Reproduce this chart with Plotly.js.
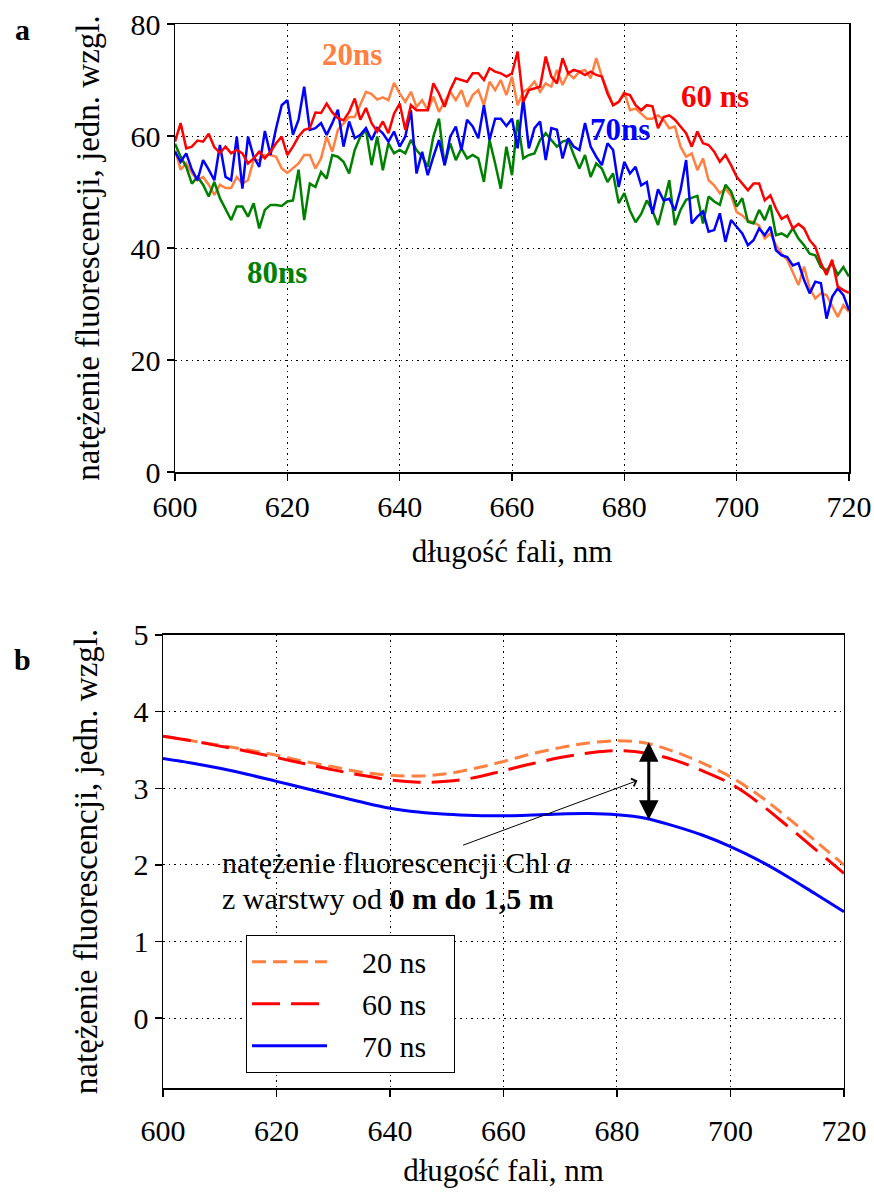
<!DOCTYPE html>
<html>
<head>
<meta charset="utf-8">
<script src="https://cdn.plot.ly/plotly-3.0.1.min.js"></script>
<style>html,body{margin:0;padding:0;background:#fff;}#chart{width:874px;height:1194px;}</style>
</head>
<body>
<div id="chart"></div>
<script>
// ---------- panel a: measured spectra (1 nm step, 600–720 nm) ----------
const wavelengthA = [];
for (let w = 600; w <= 720; w++) wavelengthA.push(w);

const seriesA_20ns = [57.5, 54.0, 55.1, 53.4, 52.1, 52.7, 51.3, 49.5, 51.3, 50.7, 50.7, 52.7, 51.5, 52.1, 55.7, 55.7, 56.6, 56.6, 56.3, 54.2, 53.4, 54.2, 55.1, 56.6, 56.6, 54.2, 56.0, 59.9, 57.2, 61.1, 62.3,
  63.4, 63.4, 65.5, 67.9, 67.5, 66.5, 66.9, 66.4, 69.5, 67.6, 66.1, 67.9, 65.2, 66.4, 64.6, 67.0, 64.3, 66.1, 67.9, 66.4, 68.2, 65.2, 67.3, 68.2, 65.5, 69.7, 68.2, 70.0, 67.3, 70.6,
  65.5, 67.9, 68.5, 69.7, 67.9, 69.4, 68.8, 71.8, 69.1, 71.2, 70.3, 71.5, 71.8, 70.3, 73.9, 70.6, 68.2, 65.5, 66.1, 67.9, 64.6, 64.9, 64.0, 63.1, 63.1, 63.7, 62.9, 61.4, 61.7, 58.1,
  56.3, 56.9, 53.9, 56.0, 52.1, 51.2, 49.8, 50.6, 49.4, 46.4, 45.8, 44.9, 44.6, 44.0, 41.7, 42.6, 40.5, 39.0, 37.9, 35.8, 33.4, 36.7, 32.8, 31.0, 31.9, 31.6, 29.5, 27.7, 29.8, 28.6];

const seriesA_60ns = [59.0, 62.3, 57.8, 58.1, 59.2, 59.0, 60.4, 58.0, 57.0, 58.1, 56.9, 57.5, 56.9, 55.1, 56.0, 57.2, 56.0, 57.2, 58.7, 59.9, 56.6, 58.1, 59.9, 61.1, 61.4, 64.2, 64.1, 65.8, 64.2, 63.2, 62.8,
  64.3, 66.7, 62.9, 65.0, 62.3, 60.8, 62.6, 60.5, 64.0, 65.8, 61.1, 65.5, 64.6, 64.6, 64.6, 69.4, 67.6, 65.2, 68.2, 70.3, 70.0, 69.7, 71.2, 71.2, 70.0, 72.1, 71.5, 71.2, 70.6, 71.2,
  75.1, 66.1, 68.2, 68.5, 68.8, 74.2, 70.6, 69.4, 73.9, 71.2, 71.8, 71.5, 70.9, 71.5, 70.9, 70.6, 67.6, 65.5, 66.1, 67.6, 67.3, 65.5, 64.6, 65.5, 65.3, 61.4, 63.4, 63.7, 62.9, 61.7,
  60.5, 58.1, 60.8, 58.7, 58.4, 57.2, 55.4, 56.6, 54.8, 52.7, 51.5, 50.3, 51.5, 51.5, 48.5, 49.4, 47.0, 45.2, 45.8, 43.5, 44.3, 43.5, 41.4, 40.2, 37.3, 35.2, 37.9, 33.1, 32.5, 32.0];

const seriesA_70ns = [57.2, 55.4, 56.9, 54.0, 52.1, 55.7, 54.0, 52.1, 58.4, 52.7, 52.1, 59.9, 50.6, 59.9, 56.3, 54.5, 60.9, 56.6, 61.4, 65.5, 66.4, 60.2, 62.9, 68.8, 61.1, 61.4, 62.3, 60.2, 62.3, 64.7, 58.1,
  62.6, 59.6, 60.2, 61.4, 59.3, 61.4, 60.5, 59.0, 60.8, 58.1, 59.9, 64.6, 53.3, 57.2, 53.0, 56.3, 59.3, 54.8, 59.9, 61.7, 57.5, 62.9, 61.7, 59.6, 65.5, 59.3, 63.1, 63.1, 61.8, 63.1,
  57.8, 66.7, 57.8, 61.4, 62.6, 55.7, 61.4, 61.1, 56.0, 59.6, 58.1, 57.5, 62.3, 58.1, 56.3, 54.8, 58.7, 57.5, 50.9, 55.4, 53.3, 54.5, 51.2, 51.8, 46.1, 50.5, 48.5, 48.8, 46.7, 50.3,
  55.7, 44.4, 45.6, 46.5, 42.9, 43.2, 46.2, 41.1, 45.0, 43.8, 42.6, 40.5, 41.4, 43.5, 42.3, 43.8, 39.6, 38.7, 38.4, 36.9, 37.3, 34.3, 31.9, 34.0, 33.7, 27.4, 31.3, 32.8, 31.6, 28.9];

const seriesA_80ns = [58.6, 56.3, 54.5, 51.5, 52.7, 51.3, 49.2, 51.8, 48.9, 46.8, 45.0, 47.4, 47.4, 45.6, 48.0, 43.5, 46.8, 47.7, 47.7, 47.5, 48.3, 48.5, 54.0, 45.0, 51.5, 50.9, 53.6, 52.4, 56.6, 56.3, 55.4,
  53.3, 57.5, 59.9, 61.1, 54.8, 59.9, 53.9, 58.7, 56.9, 57.5, 56.9, 59.3, 57.5, 56.3, 54.5, 59.9, 63.1, 54.8, 58.7, 55.7, 57.8, 56.0, 56.6, 56.0, 51.8, 59.3, 55.1, 50.6, 58.1, 53.0,
  62.9, 56.0, 56.6, 56.9, 59.3, 60.5, 59.3, 58.1, 59.0, 59.3, 56.6, 54.2, 56.6, 52.7, 55.1, 54.2, 51.8, 53.3, 48.0, 49.8, 46.7, 44.6, 46.1, 48.5, 46.7, 44.1, 48.0, 52.1, 44.1, 46.8,
  48.6, 48.9, 49.3, 44.4, 49.2, 48.3, 47.7, 51.3, 50.1, 47.4, 48.9, 44.7, 44.4, 46.8, 45.0, 47.7, 42.3, 42.6, 42.0, 43.5, 41.7, 40.5, 39.0, 38.7, 36.6, 36.0, 37.3, 35.2, 36.6, 34.9];

// ---------- panel b: smoothed spectra (5 nm step) ----------
const wavelengthB = [600, 605, 610, 615, 620, 625, 630, 635, 640, 645, 650, 655, 660, 665, 670, 675, 680, 685, 690, 695, 700, 705, 710, 715, 720];
const seriesB_20ns = [3.68, 3.62, 3.56, 3.50, 3.43, 3.35, 3.28, 3.21, 3.17, 3.16, 3.19, 3.26, 3.35, 3.45, 3.53, 3.59, 3.62, 3.59, 3.48, 3.33, 3.15, 2.91, 2.62, 2.31, 2.00];
const seriesB_60ns = [3.68, 3.62, 3.55, 3.48, 3.40, 3.32, 3.24, 3.17, 3.11, 3.08, 3.09, 3.14, 3.23, 3.32, 3.40, 3.46, 3.49, 3.46, 3.37, 3.23, 3.06, 2.81, 2.51, 2.20, 1.89];
const seriesB_70ns = [3.39, 3.33, 3.26, 3.18, 3.09, 3.00, 2.91, 2.82, 2.74, 2.69, 2.66, 2.645, 2.64, 2.65, 2.665, 2.67, 2.655, 2.61, 2.51, 2.39, 2.24, 2.06, 1.85, 1.62, 1.39];

const xTicks = [600, 620, 640, 660, 680, 700, 720];
const yTicksA = [0, 20, 40, 60, 80];
const yTicksB = [0, 1, 2, 3, 4, 5];

const seriesNamesA = ['20ns', '60 ns', '70ns', '80ns'];
const seriesNamesB = ['20 ns', '60 ns', '70 ns'];

// ---------- styling ----------
const FONT = 'Liberation Serif';
const C_ORANGE = '#ff8040', C_RED = '#ff0000', C_BLUE = '#0000ff', C_GREEN = '#008000';
const PADL = '\u00a0\u00a0\u00a0\u00a0', PADR = '\u00a0\u00a0\u00a0';

const traces = [
  {x: wavelengthA, y: seriesA_20ns, xaxis: 'x', yaxis: 'y', mode: 'lines', line: {color: C_ORANGE, width: 2.5}, showlegend: false, name: seriesNamesA[0]},
  {x: wavelengthA, y: seriesA_80ns, xaxis: 'x', yaxis: 'y', mode: 'lines', line: {color: C_GREEN, width: 2.5}, showlegend: false, name: seriesNamesA[3]},
  {x: wavelengthA, y: seriesA_70ns, xaxis: 'x', yaxis: 'y', mode: 'lines', line: {color: C_BLUE, width: 2.5}, showlegend: false, name: seriesNamesA[2]},
  {x: wavelengthA, y: seriesA_60ns, xaxis: 'x', yaxis: 'y', mode: 'lines', line: {color: C_RED, width: 2.5}, showlegend: false, name: seriesNamesA[1]},
  {x: wavelengthB, y: seriesB_20ns, xaxis: 'x2', yaxis: 'y2', mode: 'lines', line: {color: C_ORANGE, width: 3, dash: '14px,7px', shape: 'spline'}, name: PADL + seriesNamesB[0] + PADR},
  {x: wavelengthB, y: seriesB_60ns, xaxis: 'x2', yaxis: 'y2', mode: 'lines', line: {color: C_RED, width: 3, dash: '28px,11px', shape: 'spline'}, name: PADL + seriesNamesB[1] + PADR},
  {x: wavelengthB, y: seriesB_70ns, xaxis: 'x2', yaxis: 'y2', mode: 'lines', line: {color: C_BLUE, width: 3, shape: 'spline'}, name: PADL + seriesNamesB[2] + PADR}
];

const axisBase = {
  showline: true, linecolor: 'black', linewidth: 1.5, mirror: true,
  ticks: 'outside', ticklen: 7, tickwidth: 1.5, tickcolor: 'black',
  showgrid: true, gridcolor: 'black', gridwidth: 1, griddash: '1.5px,4px',
  zeroline: false,
  tickfont: {family: FONT, size: 30, color: 'black'}
};
const titleFont = {family: FONT, size: 31, color: 'black'};
const yTitleFont = {family: FONT, size: 33, color: 'black'};

const layout = {
  width: 874, height: 1194,
  margin: {l: 163, r: 25, t: 24, b: 106},
  paper_bgcolor: 'white', plot_bgcolor: 'white',
  font: {family: FONT, size: 30, color: 'black'},
  xaxis: Object.assign({}, axisBase, {
    domain: [0.0175, 1.0], anchor: 'y', range: [600, 720], tickvals: xTicks,
    ticklabelstandoff: 0,
    title: {text: 'długość fali, nm', font: titleFont, standoff: 18}
  }),
  yaxis: Object.assign({}, axisBase, {
    domain: [0.5789, 1.0], anchor: 'x', range: [0, 80], tickvals: yTicksA,
    title: {text: 'natężenie fluorescencji, jedn. wzgl.', font: yTitleFont, standoff: 21}
  }),
  xaxis2: Object.assign({}, axisBase, {
    domain: [0, 0.9927], anchor: 'y2', range: [600, 720], tickvals: xTicks,
    ticklabelstandoff: 8,
    title: {text: 'długość fali, nm', font: titleFont, standoff: 14}
  }),
  yaxis2: Object.assign({}, axisBase, {
    domain: [0, 0.4258], anchor: 'x2', range: [-0.91, 5], tickvals: yTicksB,
    title: {text: 'natężenie fluorescencji, jedn. wzgl.', font: yTitleFont, standoff: 26}
  }),
  showlegend: true,
  legend: {
    x: 0.121, y: 0.144, xanchor: 'left', yanchor: 'top',
    bgcolor: 'white', bordercolor: 'black', borderwidth: 1,
    font: {family: FONT, size: 30, color: 'black'},
    itemwidth: 75, tracegroupgap: 0
  },
  annotations: [
    {xref: 'paper', yref: 'paper', x: -0.2055, y: 0.9944, text: '<b>a</b>', showarrow: false, font: {family: FONT, size: 30}, xanchor: 'center', yanchor: 'middle'},
    {xref: 'paper', yref: 'paper', x: -0.2055, y: 0.4023, text: '<b>b</b>', showarrow: false, font: {family: FONT, size: 30}, xanchor: 'center', yanchor: 'middle'},
    {xref: 'x', yref: 'y', x: 631.5, y: 74.5, text: '<b>20ns</b>', showarrow: false, font: {family: FONT, size: 31, color: C_ORANGE}},
    {xref: 'x', yref: 'y', x: 696.1, y: 67.0, text: '<b>60 ns</b>', showarrow: false, font: {family: FONT, size: 31, color: C_RED}},
    {xref: 'x', yref: 'y', x: 679.2, y: 61.1, text: '<b>70ns</b>', showarrow: false, font: {family: FONT, size: 31, color: C_BLUE}},
    {xref: 'x', yref: 'y', x: 618.2, y: 35.7, text: '<b>80ns</b>', showarrow: false, font: {family: FONT, size: 31, color: C_GREEN}},
    {xref: 'x2', yref: 'y2', x: 610.0, y: 2.03, text: 'natężenie fluorescencji Chl <i>a</i>', showarrow: false, xanchor: 'left', yanchor: 'middle', font: {family: FONT, size: 30, color: 'black'}},
    {xref: 'x2', yref: 'y2', x: 610.0, y: 1.56, text: 'z warstwy od <b>0 m do 1,5 m</b>', showarrow: false, xanchor: 'left', yanchor: 'middle', font: {family: FONT, size: 30, color: 'black'}},
    {xref: 'x2', yref: 'y2', axref: 'x2', ayref: 'y2', x: 685.6, y: 3.6, ax: 685.6, ay: 2.57, text: '', showarrow: true, arrowside: 'end+start', arrowhead: 2, arrowsize: 1.3, arrowwidth: 3, arrowcolor: 'black'},
    {xref: 'x2', yref: 'y2', axref: 'x2', ayref: 'y2', x: 683.6, y: 3.1, ax: 652.6, ay: 2.25, text: '', showarrow: true, arrowhead: 4, arrowsize: 1.6, arrowwidth: 1, arrowcolor: 'black'}
  ]
};

Plotly.newPlot('chart', traces, layout, {displayModeBar: false, staticPlot: true});
</script>
</body>
</html>
